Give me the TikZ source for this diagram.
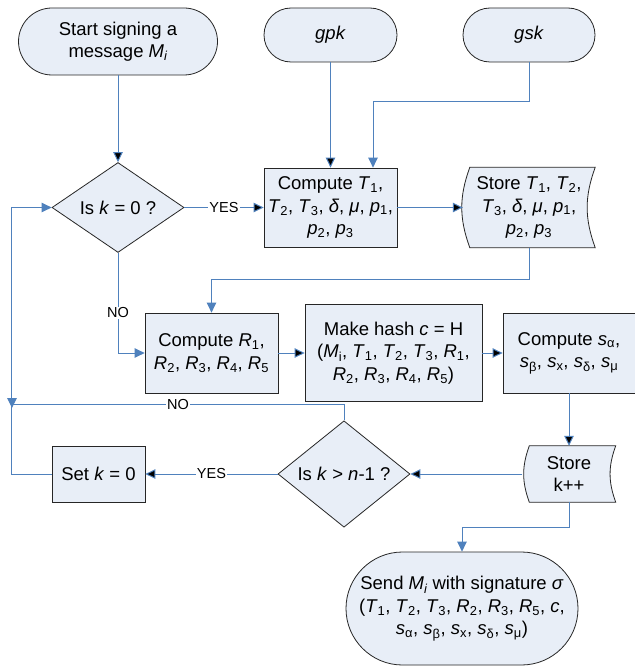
\documentclass[tikz,border=0pt]{standalone}
\usepackage{fontspec}
\setmainfont{Liberation Sans}
\usepackage{tikz}
\usetikzlibrary{arrows.meta,shapes.geometric,positioning,backgrounds}
\definecolor{boxfill}{HTML}{E8EEF7}
\definecolor{flowblue}{HTML}{4F81BD}
\newcommand{\Tsub}[1]{\textit{T}\textsubscript{#1}}
\newcommand{\Rsub}[1]{\textit{R}\textsubscript{#1}}
\newcommand{\psub}[1]{\textit{p}\textsubscript{#1}}
\newcommand{\ssub}[1]{\textit{s}\textsubscript{#1}}

\begin{document}
\begin{tikzpicture}[x=1pt,y=-1pt,on grid,
  font=\fontsize{18.5}{22.5}\selectfont,
  every node/.style={inner sep=0pt,align=center},
  terminal/.style={draw=black!85,fill=boxfill,line width=0.8pt,rounded corners=#1},
  process/.style={draw=black!85,fill=boxfill,line width=0.8pt},
  decision/.style={diamond,draw=black!85,fill=boxfill,line width=0.8pt,
    minimum width=132pt,minimum height=79pt},
  stored/.style={draw=black!85,fill=boxfill,line width=0.8pt},
  flow/.style={draw=flowblue,line width=1pt,-{Triangle[length=10pt,width=9.5pt]}},
  answer/.style={fill=white,inner sep=1pt,font=\fontsize{14.5}{16}\selectfont}]
\path[use as bounding box] (0,0) rectangle (634,666);
\node[terminal=33.5pt,minimum width=199pt,minimum height=67pt] (start) at (118,41.5) {Start signing a\\message \textit{M\textsubscript{i}}};
\node[terminal=27pt,minimum width=133pt,minimum height=54pt] (gpk) at (330.5,35) {\textit{gpk}};
\node[terminal=27pt,minimum width=132pt,minimum height=54pt] (gsk) [right=198.5pt of gpk] {\textit{gsk}};
\node[process,minimum width=133pt,minimum height=79pt] (computeT) [below=172.5pt of gpk] {Compute \Tsub{1},\\\Tsub{2}, \Tsub{3}, \textit{δ}, \textit{μ}, \psub{1},\\\psub{2}, \psub{3}};
\node[decision] (iszero) [left=212.5pt of computeT] {Is \textit{k} = 0 ?};
\node[minimum width=132pt,minimum height=80pt] (storeT) [right=198.5pt of computeT] {Store \Tsub{1}, \Tsub{2},\\\Tsub{3}, \textit{δ}, \textit{μ}, \psub{1},\\\psub{2}, \psub{3}};
\node[process,minimum width=133pt,minimum height=80pt] (computeR) at (211.5,353) {Compute \Rsub{1},\\\Rsub{2}, \Rsub{3}, \Rsub{4}, \Rsub{5}};
\node[process,minimum width=177pt,minimum height=97pt] (hash) [right=182pt of computeR] {Make hash \textit{c} = H\\(\textit{M}\textsubscript{i}, \Tsub{1}, \Tsub{2}, \Tsub{3}, \Rsub{1},\\\Rsub{2}, \Rsub{3}, \Rsub{4}, \Rsub{5})};
\node[process,minimum width=132pt,minimum height=80pt] (computeS) [right=175.5pt of hash] {Compute \ssub{α},\\\ssub{β}, \ssub{x}, \ssub{δ}, \ssub{μ}};
\node[minimum width=93pt,minimum height=56pt] (storeK) [below=121pt of computeS] {Store\\k++};
\node[decision] (islast) [left=225pt of storeK] {Is \textit{k} > \textit{n}-1 ?};
\node[process,minimum width=93pt,minimum height=56pt] (setk) [left=245.5pt of islast] {Set \textit{k} = 0};
\node[terminal=56.5pt,minimum width=232pt,minimum height=113pt] (send) at (462,608.5) {Send \textit{M\textsubscript{i}} with signature \textit{σ}\\(\Tsub{1}, \Tsub{2}, \Tsub{3}, \Rsub{2}, \Rsub{3}, \Rsub{5}, \textit{c},\\\ssub{α}, \ssub{β}, \ssub{x}, \ssub{δ}, \ssub{μ})};
\coordinate (merge) at (12,408);

% stored data outlines behind the text
\begin{scope}[on background layer]
\fill[white] (0,0) rectangle (634,666);
\foreach \n in {storeT,storeK}
  \draw[stored] ([xshift=7pt]\n.north west) to[bend right=20] ([xshift=7pt]\n.south west)
    -- (\n.south east) to[bend left=20] (\n.north east) -- cycle;
\end{scope}

\path[flow]
(start) edge (iszero)
(gpk) edge (computeT)
(iszero) edge node[answer] {YES} (computeT)
(computeT) edge (storeT)
(computeR) edge (hash)
(hash) edge (computeS)
(computeS) edge (storeK)
(storeK) edge (islast)
(islast) edge node[answer] {YES} (setk)
;
\draw[flow] (gsk.south) -- ++(0,39) -| ([xshift=42.5pt]computeT.north);
\draw[flow] (storeT.south) -- ++(0,32) -| (computeR.north);
\draw[flow] (iszero.south) |- node[answer,pos=0.3] {NO} (computeR.west);
\draw[flow] (storeK.south) -- ++(0,25) -| (send.north);
\draw[flow] (islast.north) -- ++(0,-16) -| node[answer,pos=0.25] {NO} (merge);
\draw[flow] (setk.west) -| ([xshift=-40pt]iszero.west) -- (iszero.west);
\end{tikzpicture}
\end{document}
